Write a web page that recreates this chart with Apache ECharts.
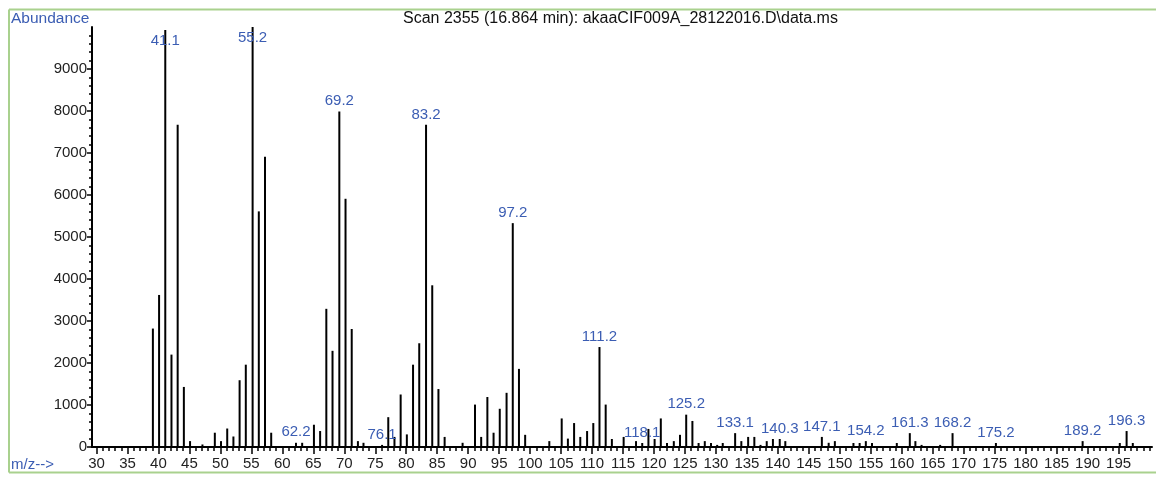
<!DOCTYPE html>
<html>
<head>
<meta charset="utf-8">
<script src="https://cdn.jsdelivr.net/npm/echarts@6/dist/echarts.min.js"></script>
<style>
html,body{margin:0;padding:0;background:#fff;}
#chart{width:1156px;height:477px;}
</style>
</head>
<body>
<div id="chart"></div>
<script>
// m/z of each ion bar
const mzValues = [
  39.1,40.1,41.1,42.1,43.1,44.1,45.1,
  47.1,49.1,50.1,51.1,52.1,53.1,54.1,55.2,56.2,57.2,58.2,
  62.2,63.2,65.1,66.1,67.1,68.1,69.2,70.2,71.2,72.2,73.1,
  76.1,77.1,78.1,79.1,80.1,81.1,82.1,83.2,84.2,85.2,86.2,
  89.1,91.1,92.1,93.1,94.1,95.1,96.2,97.2,98.2,99.2,
  103.1,105.1,106.1,107.1,108.1,109.2,110.2,111.2,112.2,113.2,
  115.1,117.1,118.1,119.1,120.1,121.1,122.1,123.2,124.2,125.2,
  126.2,127.2,128.2,129.2,130.2,131.1,
  133.1,134.1,135.2,136.2,137.2,138.2,139.2,140.3,141.2,
  147.1,148.2,149.2,
  152.2,153.2,154.2,155.2,
  159.2,161.3,162.2,163.2,166.2,168.2,175.2,189.2,195.2,196.3,197.3
];
// abundance of each bar
const abundances = [
  2820,3620,9930,2200,7670,1430,140,
  60,340,140,440,250,1590,1960,10000,5610,6910,340,
  100,100,530,380,3290,2290,7990,5910,2810,140,100,
  50,710,240,1250,300,1960,2470,7670,3850,1380,240,
  100,1010,240,1190,340,910,1290,5330,1860,290,
  140,680,200,570,240,380,570,2380,1010,190,
  240,140,95,430,190,680,95,140,290,770,
  620,95,140,95,50,95,
  330,140,240,240,50,140,190,190,140,
  240,100,140,
  95,95,140,95,
  95,330,140,50,50,330,95,140,95,380,95
];
// labelled peaks (m/z as printed)
const peakLabels = [41.1,55.2,62.2,69.2,76.1,83.2,97.2,111.2,118.1,125.2,133.1,140.3,147.1,154.2,161.3,168.2,175.2,189.2,196.3];
// axis ticks
const xMajorTicks = []; for (let v = 30; v <= 195; v += 5) xMajorTicks.push(v);
const xMinorTicks = []; for (let v = 30; v <= 200; v += 1) xMinorTicks.push(v);
const yMajorTicks = []; for (let v = 0; v <= 9000; v += 1000) yMajorTicks.push(v);
const yMinorTicks = []; for (let v = 0; v <= 9800; v += 200) yMinorTicks.push(v);

const FONT = '"Liberation Sans", Arial, sans-serif';
const BLUE = '#3b5db3';
const GREEN = '#a9d18e';

const barData = mzValues.map((m, i) => {
  const item = { value: [m, abundances[i]] };
  if (peakLabels.indexOf(m) >= 0) {
    const tall = abundances[i] > 9000;
    item.label = {
      show: true,
      position: tall ? 'insideTop' : 'top',
      distance: 3,
      formatter: m.toFixed(1),
      color: BLUE,
      fontFamily: FONT,
      fontSize: 15
    };
  }
  return item;
});

const chart = echarts.init(document.getElementById('chart'), null, {renderer: 'canvas'});
chart.setOption({
  animation: false,
  backgroundColor: '#fff',
  title: [
    { text: 'Scan 2355 (16.864 min): akaaCIF009A_28122016.D\\data.ms', left: 403, top: 11, padding: 0,
      textStyle: { fontFamily: FONT, fontSize: 16, fontWeight: 'normal', color: '#111' } },
    { text: 'Abundance', left: 11, top: 11, padding: 0,
      textStyle: { fontFamily: FONT, fontSize: 15.5, fontWeight: 'normal', color: BLUE } },
    { text: 'm/z-->', left: 11, top: 457, padding: 0,
      textStyle: { fontFamily: FONT, fontSize: 15, fontWeight: 'normal', color: BLUE } }
  ],
  grid: { left: 92, top: 27, right: 4, bottom: 30, containLabel: false },
  xAxis: [
    { type: 'value', min: 29.27, max: 200.4, position: 'bottom',
      axisLine: { show: true, lineStyle: { color: '#000', width: 2 } },
      axisTick: { show: true, customValues: xMajorTicks, length: 7, lineStyle: { color: '#000', width: 1.5 } },
      axisLabel: { show: true, customValues: xMajorTicks, margin: 9, color: '#222', fontFamily: FONT, fontSize: 15,
                   formatter: v => String(v) },
      splitLine: { show: false } },
    { type: 'value', min: 29.27, max: 200.4, position: 'bottom',
      axisLine: { show: false },
      axisTick: { show: true, customValues: xMinorTicks, length: 4, lineStyle: { color: '#000', width: 1.5 } },
      axisLabel: { show: false },
      splitLine: { show: false } }
  ],
  yAxis: [
    { type: 'value', min: 0, max: 10000, position: 'left',
      axisLine: { show: true, lineStyle: { color: '#000', width: 2 } },
      axisTick: { show: true, customValues: yMajorTicks, length: 5, lineStyle: { color: '#000', width: 1.5 } },
      axisLabel: { show: true, customValues: yMajorTicks, margin: 5, color: '#222', fontFamily: FONT, fontSize: 15,
                   formatter: v => String(v) },
      splitLine: { show: false } },
    { type: 'value', min: 0, max: 10000, position: 'left',
      axisLine: { show: false },
      axisTick: { show: true, customValues: yMinorTicks, length: 3, lineStyle: { color: '#000', width: 1.5 } },
      axisLabel: { show: false },
      splitLine: { show: false } }
  ],
  series: [{
    type: 'bar',
    xAxisIndex: 0,
    yAxisIndex: 0,
    barWidth: 2,
    itemStyle: { color: '#000' },
    data: barData
  }],
  graphic: [
    { type: 'line', shape: { x1: 9, y1: 9.5, x2: 1156, y2: 9.5 }, style: { stroke: GREEN, lineWidth: 2 }, silent: true },
    { type: 'line', shape: { x1: 9, y1: 9.5, x2: 9, y2: 472.5 }, style: { stroke: GREEN, lineWidth: 2 }, silent: true },
    { type: 'line', shape: { x1: 9, y1: 472.5, x2: 1156, y2: 472.5 }, style: { stroke: GREEN, lineWidth: 2 }, silent: true }
  ]
});
</script>
</body>
</html>
